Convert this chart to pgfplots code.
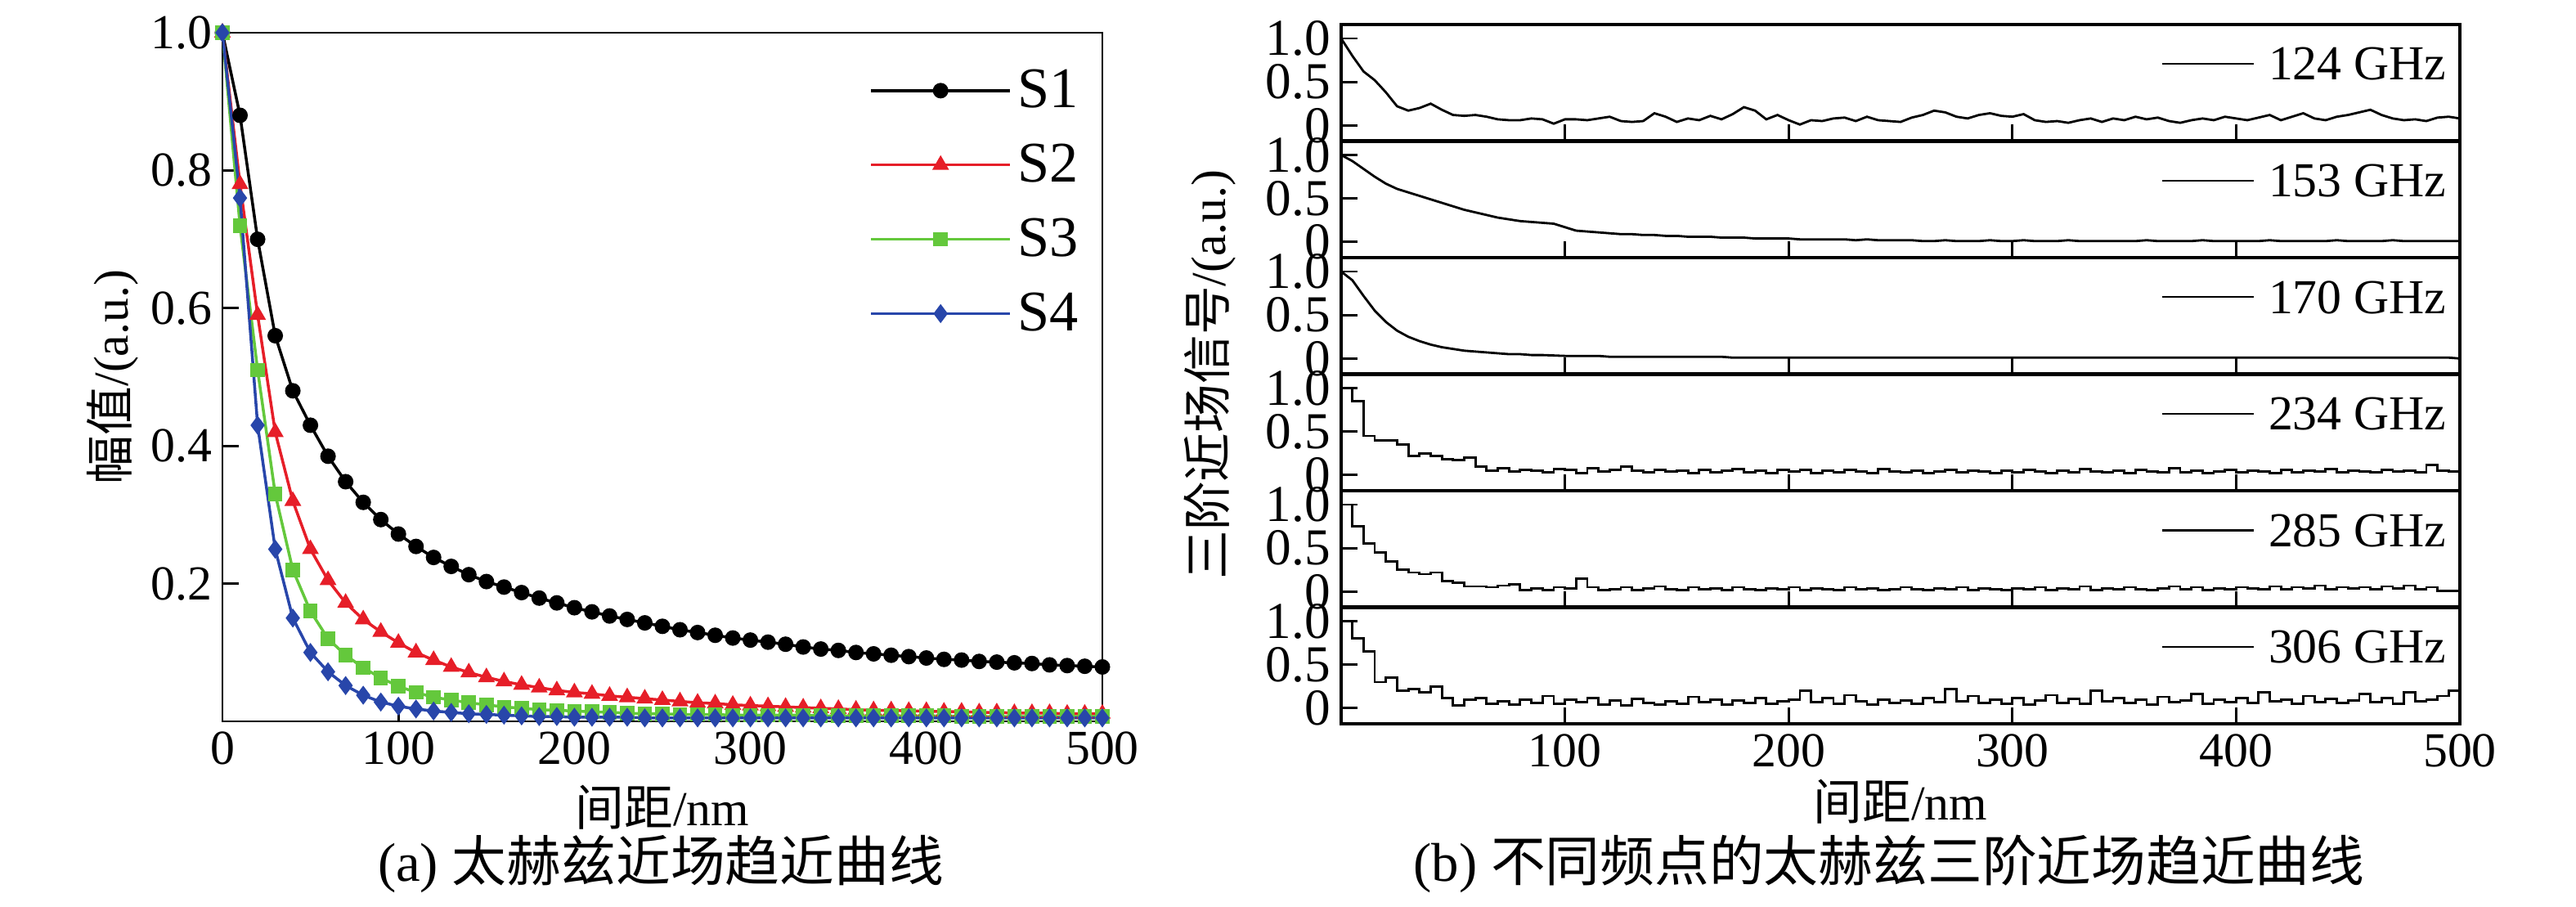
\documentclass[border=0pt]{standalone}
\usepackage{pgfplots}
\usepackage{pgfplotstable}
\pgfplotsset{compat=1.18}
\usepackage{fontspec}
\setmainfont{Liberation Serif}
\newfontfamily\cjk{Noto Sans CJK SC}
\definecolor{cS1}{RGB}{0,0,0}
\definecolor{cS2}{RGB}{230,30,40}
\definecolor{cS3}{RGB}{100,200,60}
\definecolor{cS4}{RGB}{40,70,170}

\pgfplotstableread{
x S1 S2 S3 S4
0 1.000 1.000 1.000 1.000
10 0.880 0.780 0.720 0.760
20 0.700 0.590 0.510 0.430
30 0.560 0.420 0.330 0.250
40 0.480 0.320 0.220 0.150
50 0.430 0.250 0.160 0.100
60 0.385 0.205 0.120 0.072
70 0.348 0.172 0.096 0.052
80 0.318 0.148 0.078 0.038
90 0.293 0.130 0.063 0.028
100 0.272 0.114 0.051 0.022
110 0.254 0.100 0.042 0.018
120 0.238 0.089 0.035 0.015
130 0.225 0.079 0.031 0.013
140 0.213 0.071 0.027 0.011
150 0.203 0.064 0.024 0.010
160 0.195 0.058 0.021 0.009
170 0.187 0.053 0.019 0.008
180 0.179 0.049 0.017 0.007
190 0.172 0.045 0.016 0.007
200 0.165 0.042 0.015 0.006
210 0.159 0.040 0.014 0.006
220 0.153 0.037 0.013 0.006
230 0.148 0.035 0.012 0.006
240 0.143 0.033 0.011 0.005
250 0.138 0.031 0.011 0.005
260 0.133 0.029 0.010 0.005
270 0.129 0.027 0.010 0.005
280 0.125 0.026 0.010 0.005
290 0.121 0.024 0.009 0.005
300 0.118 0.023 0.009 0.005
310 0.115 0.022 0.009 0.005
320 0.112 0.021 0.009 0.005
330 0.108 0.020 0.009 0.005
340 0.105 0.019 0.008 0.005
350 0.103 0.018 0.008 0.005
360 0.100 0.017 0.008 0.005
370 0.098 0.016 0.008 0.005
380 0.096 0.016 0.008 0.005
390 0.094 0.015 0.008 0.005
400 0.092 0.015 0.008 0.005
410 0.090 0.014 0.008 0.005
420 0.089 0.014 0.007 0.005
430 0.087 0.013 0.007 0.005
440 0.086 0.013 0.007 0.005
450 0.085 0.012 0.007 0.005
460 0.084 0.012 0.007 0.005
470 0.082 0.012 0.007 0.005
480 0.081 0.011 0.007 0.005
490 0.080 0.011 0.007 0.005
500 0.079 0.011 0.007 0.005
}\tabA

\pgfplotstableread[header=false, row sep=\\]{
1.00\\0.80\\0.62\\0.52\\0.38\\0.22\\0.17\\0.20\\0.25\\0.18\\
0.12\\0.11\\0.12\\0.10\\0.07\\0.06\\0.06\\0.08\\0.07\\0.02\\
0.07\\0.07\\0.06\\0.08\\0.10\\0.05\\0.04\\0.05\\0.14\\0.10\\
0.04\\0.08\\0.06\\0.11\\0.07\\0.13\\0.21\\0.17\\0.07\\0.12\\
0.06\\0.01\\0.06\\0.05\\0.08\\0.09\\0.05\\0.10\\0.06\\0.05\\
0.04\\0.09\\0.12\\0.17\\0.15\\0.10\\0.08\\0.12\\0.14\\0.11\\
0.10\\0.13\\0.06\\0.04\\0.05\\0.03\\0.06\\0.08\\0.04\\0.08\\
0.06\\0.10\\0.07\\0.09\\0.05\\0.03\\0.06\\0.08\\0.06\\0.10\\
0.08\\0.06\\0.09\\0.12\\0.06\\0.10\\0.14\\0.08\\0.06\\0.10\\
0.12\\0.15\\0.18\\0.12\\0.08\\0.06\\0.07\\0.05\\0.09\\0.10\\
0.08\\
}\tA
\pgfplotstableread[header=false, row sep=\\]{
1.00\\0.93\\0.84\\0.75\\0.67\\0.61\\0.57\\0.53\\0.49\\0.45\\
0.41\\0.37\\0.34\\0.31\\0.28\\0.26\\0.24\\0.23\\0.22\\0.21\\
0.17\\0.13\\0.12\\0.11\\0.10\\0.09\\0.09\\0.08\\0.08\\0.07\\
0.07\\0.06\\0.06\\0.06\\0.05\\0.05\\0.05\\0.04\\0.04\\0.04\\
0.04\\0.03\\0.03\\0.03\\0.03\\0.03\\0.02\\0.03\\0.02\\0.02\\
0.02\\0.02\\0.01\\0.01\\0.02\\0.01\\0.01\\0.01\\0.02\\0.01\\
0.01\\0.02\\0.01\\0.01\\0.01\\0.02\\0.01\\0.01\\0.01\\0.01\\
0.01\\0.01\\0.02\\0.01\\0.01\\0.01\\0.01\\0.02\\0.01\\0.01\\
0.01\\0.01\\0.01\\0.02\\0.01\\0.01\\0.01\\0.01\\0.01\\0.02\\
0.01\\0.01\\0.01\\0.01\\0.02\\0.01\\0.01\\0.01\\0.01\\0.01\\
0.01\\
}\tB
\pgfplotstableread[header=false, row sep=\\]{
1.00\\0.90\\0.72\\0.55\\0.42\\0.32\\0.25\\0.20\\0.16\\0.13\\
0.11\\0.09\\0.08\\0.07\\0.06\\0.05\\0.05\\0.04\\0.04\\0.035\\
0.03\\0.03\\0.03\\0.03\\0.02\\0.02\\0.02\\0.02\\0.02\\0.02\\
0.02\\0.02\\0.02\\0.02\\0.02\\0.01\\0.01\\0.01\\0.01\\0.01\\
0.01\\0.01\\0.01\\0.01\\0.01\\0.01\\0.01\\0.01\\0.01\\0.01\\
0.01\\0.01\\0.01\\0.01\\0.01\\0.01\\0.01\\0.01\\0.01\\0.01\\
0.01\\0.01\\0.01\\0.01\\0.01\\0.01\\0.01\\0.01\\0.01\\0.01\\
0.01\\0.01\\0.01\\0.01\\0.01\\0.01\\0.01\\0.01\\0.01\\0.01\\
0.01\\0.01\\0.01\\0.01\\0.01\\0.01\\0.01\\0.01\\0.01\\0.01\\
0.01\\0.01\\0.01\\0.01\\0.01\\0.01\\0.01\\0.01\\0.01\\0.01\\
0.00\\
}\tC
\pgfplotstableread[header=false, row sep=\\]{
1.00\\0.85\\0.45\\0.40\\0.40\\0.35\\0.22\\0.25\\0.22\\0.18\\
0.17\\0.20\\0.10\\0.05\\0.08\\0.04\\0.06\\0.05\\0.03\\0.07\\
0.06\\0.02\\0.08\\0.04\\0.06\\0.10\\0.05\\0.03\\0.06\\0.04\\
0.05\\0.02\\0.06\\0.03\\0.05\\0.07\\0.03\\0.05\\0.02\\0.06\\
0.04\\0.06\\0.02\\0.05\\0.03\\0.06\\0.04\\0.02\\0.07\\0.04\\
0.03\\0.05\\0.02\\0.04\\0.06\\0.03\\0.05\\0.04\\0.02\\0.05\\
0.03\\0.06\\0.04\\0.02\\0.05\\0.03\\0.07\\0.04\\0.03\\0.05\\
0.02\\0.06\\0.04\\0.03\\0.08\\0.03\\0.05\\0.02\\0.04\\0.06\\
0.03\\0.05\\0.04\\0.02\\0.06\\0.03\\0.05\\0.04\\0.07\\0.03\\
0.05\\0.04\\0.03\\0.06\\0.04\\0.05\\0.03\\0.12\\0.05\\0.04\\
0.08\\
}\tD
\pgfplotstableread[header=false, row sep=\\]{
1.00\\0.75\\0.55\\0.45\\0.35\\0.25\\0.22\\0.20\\0.22\\0.12\\
0.10\\0.06\\0.06\\0.05\\0.07\\0.08\\0.02\\0.04\\0.02\\0.05\\
0.04\\0.15\\0.05\\0.02\\0.03\\0.05\\0.02\\0.04\\0.06\\0.03\\
0.02\\0.05\\0.03\\0.04\\0.02\\0.05\\0.03\\0.02\\0.04\\0.03\\
0.05\\0.02\\0.04\\0.03\\0.02\\0.05\\0.03\\0.04\\0.02\\0.03\\
0.05\\0.03\\0.02\\0.04\\0.03\\0.05\\0.02\\0.04\\0.03\\0.02\\
0.04\\0.03\\0.05\\0.02\\0.04\\0.03\\0.06\\0.02\\0.04\\0.03\\
0.05\\0.03\\0.02\\0.04\\0.06\\0.03\\0.05\\0.02\\0.04\\0.03\\
0.05\\0.04\\0.03\\0.06\\0.03\\0.05\\0.04\\0.07\\0.03\\0.05\\
0.04\\0.05\\0.03\\0.06\\0.04\\0.07\\0.03\\0.05\\0.01\\0.01\\
0.02\\
}\tE
\pgfplotstableread[header=false, row sep=\\]{
1.00\\0.80\\0.65\\0.30\\0.35\\0.20\\0.22\\0.18\\0.25\\0.12\\
0.03\\0.10\\0.12\\0.05\\0.08\\0.04\\0.10\\0.06\\0.14\\0.05\\
0.10\\0.07\\0.12\\0.04\\0.09\\0.03\\0.11\\0.06\\0.04\\0.08\\
0.05\\0.13\\0.07\\0.10\\0.04\\0.09\\0.06\\0.12\\0.05\\0.08\\
0.10\\0.20\\0.07\\0.12\\0.05\\0.15\\0.08\\0.04\\0.10\\0.06\\
0.09\\0.05\\0.12\\0.07\\0.22\\0.08\\0.14\\0.06\\0.10\\0.05\\
0.12\\0.04\\0.09\\0.15\\0.06\\0.11\\0.05\\0.20\\0.08\\0.12\\
0.06\\0.10\\0.04\\0.13\\0.07\\0.09\\0.16\\0.05\\0.10\\0.07\\
0.12\\0.06\\0.18\\0.08\\0.10\\0.05\\0.14\\0.07\\0.11\\0.06\\
0.09\\0.16\\0.07\\0.12\\0.05\\0.18\\0.08\\0.10\\0.14\\0.20\\
0.15\\
}\tF

\pgfplotsset{
  every axis/.append style={
    /pgf/number format/assume math mode=true,
    tick label style={font=\fontsize{17}{20}\selectfont},
    label style={font=\fontsize{17}{20}\selectfont},
    line width=0.8pt, tick style={line width=0.8pt, black}, tick align=inside,
    xtick pos=bottom, ytick pos=left,
  },
  rpanel/.style={
    scale only axis, width=136.8mm, height=14.25mm, anchor=south west,
    xmin=0, xmax=500, ymin=-0.18, ymax=1.16,
    xtick={100,200,300,400,500}, ytick={0,0.5,1},
    yticklabels={0,0.5,1.0}, major tick length=2mm,
    xticklabels={}, axis line style={line width=1.2pt},
    yticklabel style={font=\fontsize{18}{20}\selectfont},
    clip=true,
  },
}
\newcommand\glab[1]{\draw[line width=0.6pt] (rel axis cs:0.734,0.66) -- (rel axis cs:0.816,0.66) node[right, font=\fontsize{17}{20}\selectfont, xshift=0.5mm] {#1};}

\begin{document}
\begin{tikzpicture}
\path[use as bounding box] (0,0) rectangle (315mm,110.8mm);
\begin{axis}[
  scale only axis, width=107.6mm, height=84.2mm, at={(27.2mm,22.6mm)}, anchor=south west,
  xmin=0, xmax=500, ymin=0, ymax=1,
  xtick={0,100,200,300,400,500}, ytick={0.2,0.4,0.6,0.8,1.0},
  yticklabel style={/pgf/number format/.cd, fixed, fixed zerofill, precision=1},
  major tick length=2mm,
  legend style={draw=none, fill=none, at={(0.99,0.965)}, anchor=north east,
     font=\fontsize{20}{22}\selectfont, row sep=2.5mm},
  legend cell align=left,
  legend image code/.code={\draw[#1, mark repeat=2, mark phase=2] plot coordinates {(0mm,0mm) (8.5mm,0mm) (17mm,0mm)};},
  xlabel={{\cjk 间距}/nm}, ylabel={{\cjk 幅值}/(a.u.)},
  xlabel style={at={(0.5,0)}, anchor=center, yshift=-10.5mm},
  ylabel style={yshift=-1mm},
]
\addplot[cS1, line width=1pt, mark=*, mark size=2.2pt] table[x=x, y=S1] {\tabA};
\addplot[cS2, line width=1pt, mark=triangle*, mark size=2.4pt] table[x=x, y=S2] {\tabA};
\addplot[cS3, line width=1pt, mark=square*, mark size=2pt] table[x=x, y=S3] {\tabA};
\addplot[cS4, line width=1pt, mark=diamond*, mark size=2.5pt] table[x=x, y=S4] {\tabA};
\legend{S1,S2,S3,S4}
\end{axis}
\node[font=\fontsize{19}{22}\selectfont] at (80.8mm,5.2mm) {(a) {\cjk 太赫兹近场趋近曲线}};

\begin{axis}[rpanel, at={(164mm,93.55mm)}]
\addplot[black, line width=0.8pt] table[x expr=\coordindex*5, y index=0] {\tA};
\glab{124 GHz}
\end{axis}
\begin{axis}[rpanel, at={(164mm,79.3mm)}]
\addplot[black, line width=0.8pt] table[x expr=\coordindex*5, y index=0] {\tB};
\glab{153 GHz}
\end{axis}
\begin{axis}[rpanel, at={(164mm,65.05mm)}]
\addplot[black, line width=0.8pt] table[x expr=\coordindex*5, y index=0] {\tC};
\glab{170 GHz}
\end{axis}
\begin{axis}[rpanel, at={(164mm,50.8mm)}]
\addplot[black, line width=0.8pt, const plot] table[x expr=\coordindex*5, y index=0] {\tD};
\glab{234 GHz}
\end{axis}
\begin{axis}[rpanel, at={(164mm,36.55mm)}]
\addplot[black, line width=0.8pt, const plot] table[x expr=\coordindex*5, y index=0] {\tE};
\glab{285 GHz}
\end{axis}
\begin{axis}[rpanel, at={(164mm,22.3mm)}, xticklabels={100,200,300,400,500},
  xlabel={{\cjk 间距}/nm}, xlabel style={yshift=1mm}]
\addplot[black, line width=0.8pt, const plot] table[x expr=\coordindex*5, y index=0] {\tF};
\glab{306 GHz}
\end{axis}
\node[rotate=90, font=\fontsize{17}{20}\selectfont] at (148mm,65mm) {{\cjk 三阶近场信号}/(a.u.)};
\node[font=\fontsize{19}{22}\selectfont] at (231mm,5.2mm) {(b) {\cjk 不同频点的太赫兹三阶近场趋近曲线}};
\end{tikzpicture}
\end{document}
